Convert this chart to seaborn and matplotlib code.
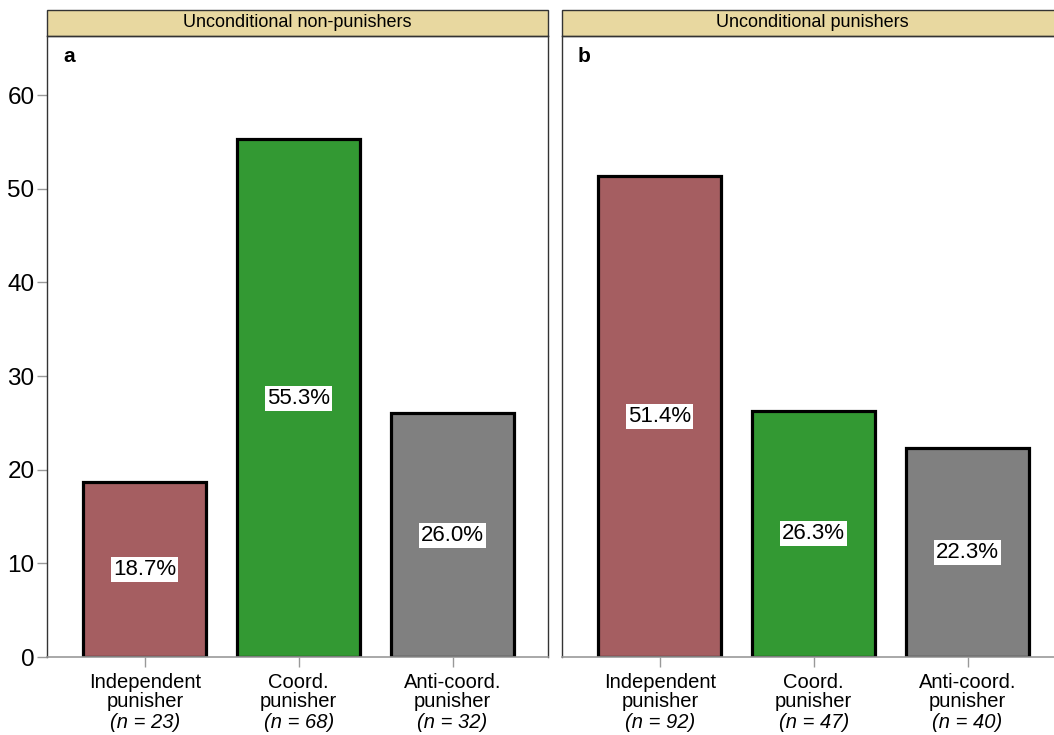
import matplotlib
matplotlib.use("Agg")
import matplotlib.pyplot as plt
import seaborn as sns
import pandas as pd
from matplotlib.patches import Rectangle

sns.set_style("white")
plt.rcParams["font.family"] = ["Liberation Sans", "DejaVu Sans"]
plt.rcParams["text.color"] = "black"
plt.rcParams["xtick.labelcolor"] = "black"
plt.rcParams["ytick.labelcolor"] = "black"

# Data
panels = ["Unconditional non-punishers", "Unconditional punishers"]
panel_letters = ["a", "b"]
categories = ["Independent\npunisher", "Coord.\npunisher", "Anti-coord.\npunisher"]
values_a = [18.7, 55.3, 26.0]
values_b = [51.4, 26.3, 22.3]
n_a = [23, 68, 32]
n_b = [92, 47, 40]
yticks = [0, 10, 20, 30, 40, 50, 60]

colors = ["#a55e61", "#339933", "#808080"]
strip_color = "#e8d8a0"
frame_color = "#333333"
axis_gray = "#999999"

fig = plt.figure(figsize=(10.54, 7.35), dpi=100)
W, H = 1054, 735
ax_h = 621 / H
ax_w = 501 / W
bottom = (H - 657) / H
axes = [fig.add_axes([47 / W, bottom, ax_w, ax_h]),
        fig.add_axes([562 / W, bottom, ax_w, ax_h])]

for k, (ax, vals, ns) in enumerate(zip(axes, [values_a, values_b], [n_a, n_b])):
    df = pd.DataFrame({"cat": categories, "val": vals})
    sns.barplot(data=df, x="cat", y="val", hue="cat", palette=colors,
                width=0.8, edgecolor="black", linewidth=2.3, ax=ax,
                legend=False, saturation=1)
    ax.set_xlim(-0.636, 2.62)
    ax.set_ylim(0, 66.3)
    ax.set_xlabel("")
    ax.set_ylabel("")

    for sp in ["left", "right", "top"]:
        ax.spines[sp].set_color(frame_color)
        ax.spines[sp].set_linewidth(1.0)
    ax.spines["bottom"].set_color(axis_gray)
    ax.spines["bottom"].set_linewidth(1.2)

    ax.set_xticks(range(len(categories)))
    ax.set_xticklabels([])
    ax.tick_params(axis="x", length=7, color=axis_gray, width=1.0, direction="out", bottom=True)
    if k == 0:
        ax.set_yticks(yticks)
        ax.set_yticklabels([str(t) for t in yticks], fontsize=17.5)
        ax.tick_params(axis="y", length=7, color=axis_gray, width=1.0, direction="out", left=True, pad=2)
    else:
        ax.set_yticks([])

    # category labels with italic sample sizes beneath
    for i, (cat, n) in enumerate(zip(categories, ns)):
        ax.annotate(cat, xy=(i, 0), xycoords=("data", "axes fraction"),
                    xytext=(0, -16), textcoords="offset pixels",
                    ha="center", va="top", fontsize=14.5, linespacing=0.98)
        ax.annotate(f"(n = {n})", xy=(i, 0), xycoords=("data", "axes fraction"),
                    xytext=(0, -56), textcoords="offset pixels",
                    ha="center", va="top", fontsize=14.5, style="italic")

    # value labels at mid-height
    for i, v in enumerate(vals):
        ax.text(i, v / 2, f"{v:.1f}%", ha="center", va="center", fontsize=16,
                bbox=dict(facecolor="white", edgecolor="none", pad=1.5))

    # facet strip
    strip_h = 26 / 621
    ax.add_patch(Rectangle((0, 1), 1, strip_h, transform=ax.transAxes,
                           facecolor=strip_color, edgecolor=frame_color,
                           linewidth=1.0, clip_on=False))
    ax.text(0.5, 1 + strip_h / 2, panels[k], transform=ax.transAxes,
            ha="center", va="center", fontsize=13)

    ax.text(16 / 501, 1 - 21 / 621, panel_letters[k], transform=ax.transAxes,
            ha="left", va="center", fontsize=15, fontweight="bold")

fig.savefig("out.png", dpi=100)
